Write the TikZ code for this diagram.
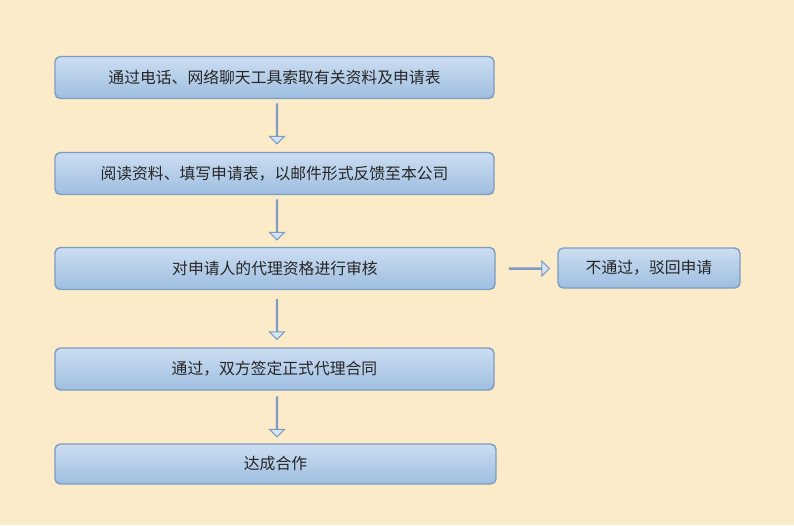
\documentclass[tikz,border=0pt]{standalone}
\usepackage{fontspec}
\newfontfamily\cjk{Noto Sans CJK SC}
\usetikzlibrary{positioning,shapes.arrows}
\definecolor{bgc}{HTML}{FCEBC9}
\definecolor{boxtop}{HTML}{CCDDF1}
\definecolor{boxbot}{HTML}{9EBEE0}
\definecolor{boxline}{HTML}{7D9CC2}
\tikzset{
  stepbox/.style={draw=boxline, line width=0.8pt, rounded corners=3pt,
    top color=boxtop, bottom color=boxbot, minimum height=0.84cm,
    font=\cjk\fontsize{9}{10}\selectfont, text=black!85},
  flowarrow/.style={single arrow, draw=boxline, fill=boxtop!80!white, line width=0.6pt,
    minimum height=0.8cm, minimum width=0.3cm, single arrow head extend=0.1cm,
    inner sep=0pt}
}
\begin{document}
\begin{tikzpicture}
  \fill[bgc] (0,0) rectangle (15.88,-10.5);
  \useasboundingbox (0,0) rectangle (15.88,-10.5);

  \node[stepbox, minimum width=8.78cm] (s1) at (5.49,-1.55) {通过电话、网络聊天工具索取有关资料及申请表};
  \node[stepbox, minimum width=8.78cm] (s2) at (5.49,-3.47) {阅读资料、填写申请表，以邮件形式反馈至本公司};
  \node[stepbox, minimum width=8.8cm] (s3) at (5.5,-5.37) {对申请人的代理资格进行审核};
  \node[stepbox, minimum width=8.78cm] (s4) at (5.49,-7.38) {通过，双方签定正式代理合同};
  \node[stepbox, minimum width=8.82cm, minimum height=0.8cm] (s5) at (5.51,-9.28) {达成合作};
  \node[stepbox, minimum width=3.64cm, minimum height=0.8cm] (no) at (12.98,-5.36) {不通过，驳回申请};

  % arrows between steps
  \node[flowarrow, rotate=-90] (a1) at (5.54,-2.47) {};
  \node[flowarrow, rotate=-90] (a2) at (5.54,-4.39) {};
  \node[flowarrow, rotate=-90] (a3) at (5.54,-6.38) {};
  \node[flowarrow, rotate=-90] (a4) at (5.54,-8.33) {};
  \node[flowarrow] (a5) at (10.58,-5.37) {};
\end{tikzpicture}
\end{document}
